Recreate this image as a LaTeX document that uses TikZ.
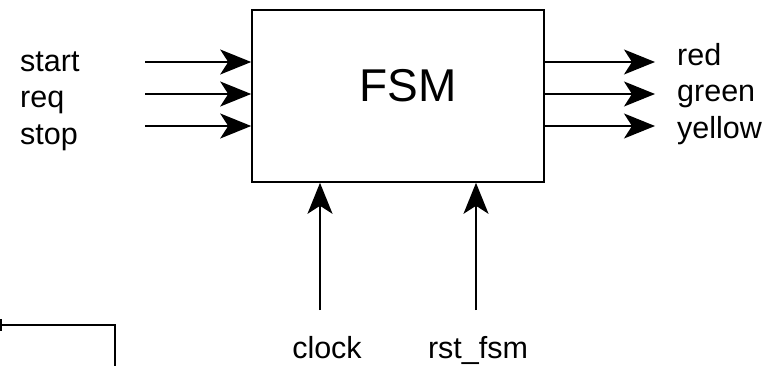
\documentclass[tikz,border=0pt]{standalone}
\usepackage{fontspec}
\setmainfont{Liberation Sans}
\usetikzlibrary{arrows.meta}
\begin{document}
\begin{tikzpicture}[x=1pt,y=-1pt,
  wire/.style={line width=1.6pt},
  sig/.style={wire,-{Stealth[length=31pt,width=25pt,inset=8pt]}},
  lbl/.style={font=\fontsize{30.5}{34}\selectfont, inner sep=0pt, anchor=base west},
  lblc/.style={font=\fontsize{30.5}{34}\selectfont, inner sep=0pt, anchor=base}]
\useasboundingbox (0,0) rectangle (776,366);
% FSM box
\node[draw, wire, minimum width=292pt, minimum height=172pt, inner sep=0pt] (fsm) at (398,96) {};
\node[font=\fontsize{46}{50}\selectfont, inner sep=0pt] (fsmtext) at (408,86) {FSM};
% inputs
\coordinate (i1) at (145,62);
\coordinate (i2) at (145,94);
\coordinate (i3) at (145,126);
\draw[sig] (i1) -- (i1 -| fsm.west);
\draw[sig] (i2) -- (i2 -| fsm.west);
\draw[sig] (i3) -- (i3 -| fsm.west);
\node[lbl] (lstart) at (20,72) {start};
\node[lbl] (lreq) at (20,108) {req};
\node[lbl] (lstop) at (20,145) {stop};
% outputs
\coordinate (o1) at (655,62);
\coordinate (o2) at (655,94);
\coordinate (o3) at (655,126);
\draw[sig] (o1 -| fsm.east) -- (o1);
\draw[sig] (o2 -| fsm.east) -- (o2);
\draw[sig] (o3 -| fsm.east) -- (o3);
\node[lbl] (lred) at (677,66) {red};
\node[lbl] (lgreen) at (677,102) {green};
\node[lbl] (lyellow) at (677,139) {yellow};
% bottom inputs
\coordinate (c1) at (320,310);
\coordinate (c2) at (476,310);
\draw[sig] (c1) -- (c1 |- fsm.south);
\draw[sig] (c2) -- (c2 |- fsm.south);
\node[lblc] (lclock) at (327,358) {clock};
\node[lblc] (lrst) at (478,358) {rst\_fsm};
% partial box lower left
\coordinate (p0) at (0,325);
\coordinate (p1) at (115,325);
\coordinate (p2) at (115,366);
\draw[wire] (p0) -- (p1) -- (p2);
\draw[wire] (1,319) -- (1,331);
\end{tikzpicture}
\end{document}
